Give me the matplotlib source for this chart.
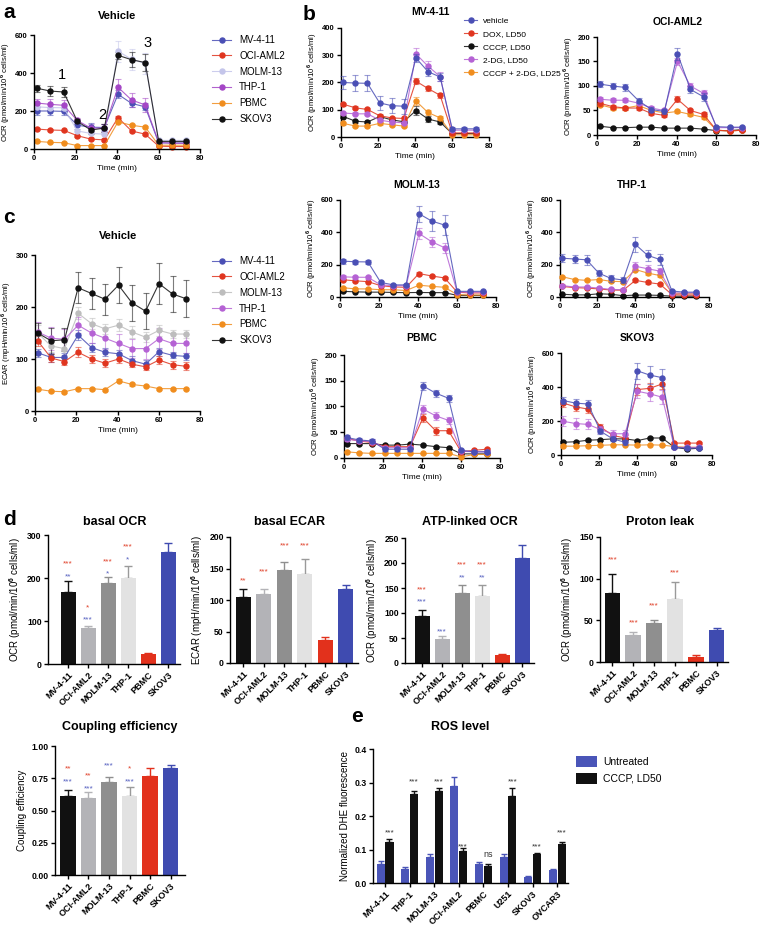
import matplotlib
matplotlib.use('Agg')
import matplotlib.pyplot as plt
import matplotlib.colors as mcolors
from matplotlib.lines import Line2D
import numpy as np

plt.rcParams['font.family'] = ['Liberation Sans', 'DejaVu Sans']
plt.rcParams['font.weight'] = 'bold'
plt.rcParams['mathtext.fontset'] = 'custom'
plt.rcParams['mathtext.rm'] = 'Liberation Sans'
plt.rcParams['mathtext.bf'] = 'Liberation Sans:bold'

# ---------------- data ----------------
time_min = [1.3, 7.8, 14.3, 20.9, 27.4, 33.9, 40.5, 47.0, 53.6, 60.1, 66.7, 73.2]

cell_lines = ["MV-4-11", "OCI-AML2", "MOLM-13", "THP-1", "PBMC", "SKOV3"]

# panel a: vehicle OCR
a_mv = [200, 200, 198, 125, 115, 113, 288, 240, 222, 32, 32, 32]
a_mv_err = [20, 20, 20, 20, 20, 20, 20, 18, 18, 5, 5, 5]
a_oci = [105, 100, 98, 70, 52, 48, 165, 95, 78, 15, 13, 13]
a_oci_err = [5, 4, 4, 5, 5, 5, 10, 6, 5, 2, 2, 2]
a_molm = [222, 218, 217, 95, 82, 78, 515, 472, 450, 45, 45, 45]
a_molm_err = [20, 20, 20, 20, 20, 20, 55, 55, 55, 5, 5, 5]
a_thp = [242, 235, 230, 150, 110, 110, 325, 258, 232, 35, 30, 30]
a_thp_err = [22, 30, 30, 15, 20, 20, 45, 35, 35, 5, 5, 5]
a_pbmc = [40, 35, 33, 18, 18, 18, 143, 125, 115, 20, 20, 20]
a_pbmc_err = [3, 3, 3, 2, 2, 2, 8, 5, 5, 2, 2, 2]
a_skov = [320, 305, 300, 145, 100, 110, 493, 470, 455, 40, 40, 40]
a_skov_err = [18, 25, 25, 15, 20, 20, 20, 40, 45, 5, 5, 5]

# panel b: treatments
treatments = ["vehicle", "DOX, LD50", "CCCP, LD50", "2-DG, LD50", "CCCP + 2-DG, LD25"]

b_mv_veh = [200, 198, 197, 125, 115, 113, 290, 240, 220, 30, 30, 30]
b_mv_veh_err = [25, 28, 30, 25, 28, 28, 15, 15, 15, 5, 5, 5]
b_mv_dox = [120, 107, 101, 78, 70, 68, 205, 178, 153, 15, 15, 15]
b_mv_dox_err = [6, 5, 5, 5, 5, 5, 12, 10, 10, 3, 3, 3]
b_mv_cccp = [75, 58, 55, 75, 63, 56, 97, 66, 55, 12, 13, 12]
b_mv_cccp_err = [5, 5, 5, 5, 5, 5, 15, 10, 8, 2, 2, 2]
b_mv_2dg = [88, 85, 85, 62, 55, 52, 305, 260, 222, 25, 25, 25]
b_mv_2dg_err = [5, 5, 5, 5, 5, 5, 20, 20, 15, 5, 5, 5]
b_mv_combo = [50, 40, 40, 50, 45, 40, 132, 90, 70, 8, 8, 8]
b_mv_combo_err = [5, 5, 5, 5, 5, 5, 15, 10, 8, 2, 2, 2]

b_oci_veh = [104, 100, 97, 70, 52, 48, 166, 93, 78, 17, 16, 16]
b_oci_veh_err = [6, 6, 7, 5, 5, 5, 12, 8, 8, 2, 2, 2]
b_oci_dox = [65, 58, 55, 55, 44, 40, 73, 50, 42, 10, 8, 10]
b_oci_dox_err = [5, 4, 4, 3, 3, 3, 6, 4, 4, 2, 2, 2]
b_oci_cccp = [18, 15, 15, 16, 16, 14, 14, 14, 12, 9, 9, 11]
b_oci_cccp_err = [1, 1, 1, 1, 1, 1, 1, 1, 1, 1, 1, 1]
b_oci_2dg = [73, 71, 71, 65, 55, 50, 150, 100, 85, 15, 15, 15]
b_oci_2dg_err = [4, 4, 4, 4, 4, 4, 8, 7, 6, 2, 2, 2]
b_oci_combo = [62, 55, 55, 60, 50, 45, 48, 42, 36, 10, 8, 10]
b_oci_combo_err = [3, 3, 3, 3, 3, 3, 3, 3, 3, 2, 2, 2]

b_molm_veh = [222, 218, 217, 90, 75, 75, 515, 470, 445, 35, 35, 35]
b_molm_veh_err = [15, 12, 12, 8, 8, 8, 50, 60, 60, 5, 5, 5]
b_molm_dox = [107, 100, 95, 70, 62, 60, 145, 130, 118, 30, 25, 25]
b_molm_dox_err = [5, 5, 5, 5, 5, 5, 8, 8, 8, 3, 3, 3]
b_molm_cccp = [35, 32, 30, 30, 28, 27, 28, 27, 27, 10, 10, 10]
b_molm_cccp_err = [3, 3, 3, 3, 3, 3, 3, 3, 3, 2, 2, 2]
b_molm_2dg = [125, 122, 122, 75, 70, 70, 393, 342, 305, 30, 30, 30]
b_molm_2dg_err = [8, 8, 8, 8, 8, 8, 35, 30, 30, 5, 5, 5]
b_molm_combo = [58, 50, 50, 45, 45, 40, 73, 66, 60, 15, 12, 12]
b_molm_combo_err = [4, 4, 4, 4, 4, 4, 5, 5, 5, 2, 2, 2]

b_thp_veh = [240, 235, 230, 147, 115, 105, 325, 258, 232, 37, 30, 30]
b_thp_veh_err = [25, 25, 30, 20, 20, 20, 45, 35, 35, 5, 5, 5]
b_thp_dox = [65, 58, 55, 50, 43, 42, 103, 90, 80, 15, 12, 12]
b_thp_dox_err = [5, 5, 5, 5, 5, 5, 8, 8, 8, 3, 3, 3]
b_thp_cccp = [17, 13, 13, 20, 17, 8, 12, 12, 10, 5, 5, 5]
b_thp_cccp_err = [2, 2, 2, 2, 2, 2, 2, 2, 2, 1, 1, 1]
b_thp_2dg = [70, 62, 62, 55, 47, 45, 190, 175, 160, 25, 25, 25]
b_thp_2dg_err = [8, 8, 8, 8, 8, 8, 25, 20, 20, 5, 5, 5]
b_thp_combo = [125, 108, 103, 108, 97, 95, 170, 148, 133, 25, 20, 20]
b_thp_combo_err = [6, 6, 6, 6, 6, 6, 10, 10, 10, 3, 3, 3]

b_pb_veh = [40, 35, 33, 17, 17, 17, 140, 126, 116, 15, 12, 12]
b_pb_veh_err = [5, 4, 4, 3, 3, 3, 8, 7, 7, 3, 3, 3]
b_pb_dox = [38, 33, 30, 22, 22, 22, 78, 53, 53, 12, 15, 17]
b_pb_dox_err = [3, 3, 3, 3, 3, 3, 8, 8, 5, 3, 3, 3]
b_pb_cccp = [28, 28, 28, 25, 25, 27, 25, 22, 20, 8, 8, 8]
b_pb_cccp_err = [2, 2, 2, 2, 2, 2, 2, 2, 2, 1, 1, 1]
b_pb_2dg = [37, 33, 32, 20, 20, 20, 95, 82, 73, 13, 12, 12]
b_pb_2dg_err = [4, 4, 4, 3, 3, 3, 8, 8, 7, 3, 3, 3]
b_pb_combo = [12, 10, 9, 9, 9, 9, 9, 9, 9, 2, 7, 7]
b_pb_combo_err = [1, 1, 1, 1, 1, 1, 1, 1, 1, 1, 1, 1]

b_sk_veh = [320, 305, 300, 140, 95, 75, 495, 470, 455, 45, 40, 40]
b_sk_veh_err = [20, 25, 25, 15, 15, 15, 45, 55, 50, 5, 5, 5]
b_sk_dox = [305, 283, 270, 165, 115, 100, 385, 392, 418, 70, 70, 70]
b_sk_dox_err = [20, 25, 25, 15, 15, 15, 30, 30, 30, 5, 5, 5]
b_sk_cccp = [75, 78, 87, 90, 95, 95, 85, 100, 100, 45, 35, 40]
b_sk_cccp_err = [5, 5, 5, 5, 5, 5, 5, 5, 5, 5, 5, 5]
b_sk_2dg = [198, 185, 180, 150, 125, 125, 375, 360, 340, 45, 45, 45]
b_sk_2dg_err = [30, 30, 30, 20, 20, 20, 40, 40, 40, 5, 5, 5]
b_sk_combo = [52, 52, 55, 57, 60, 60, 58, 60, 58, 50, 45, 45]
b_sk_combo_err = [4, 4, 4, 4, 4, 4, 4, 4, 4, 4, 4, 4]

# panel c: vehicle ECAR
c_mv = [112, 103, 103, 146, 122, 113, 110, 97, 90, 114, 107, 105]
c_mv_err = [8, 8, 8, 10, 8, 8, 8, 8, 8, 8, 6, 6]
c_oci = [135, 102, 95, 113, 100, 92, 100, 90, 85, 98, 89, 86]
c_oci_err = [10, 8, 6, 10, 8, 8, 8, 6, 6, 8, 8, 8]
c_molm = [150, 125, 120, 188, 168, 158, 165, 152, 142, 155, 148, 148]
c_molm_err = [15, 12, 12, 12, 10, 10, 12, 12, 10, 10, 8, 8]
c_thp = [152, 140, 138, 165, 150, 140, 130, 120, 120, 139, 130, 130]
c_thp_err = [20, 22, 20, 15, 20, 20, 18, 18, 20, 20, 18, 18]
c_pbmc = [42, 38, 37, 43, 43, 41, 58, 51, 48, 43, 43, 43]
c_pbmc_err = [2, 2, 2, 2, 2, 2, 3, 2, 2, 2, 2, 2]
c_skov = [150, 135, 137, 237, 226, 215, 242, 208, 192, 245, 225, 216]
c_skov_err = [20, 25, 22, 30, 30, 30, 35, 35, 35, 40, 35, 35]

# panel d: bar summaries
d_basal_ocr = [167, 83, 188, 200, 23, 260]
d_basal_ocr_err = [27, 6, 15, 28, 3, 22]
d_basal_ecar = [105, 110, 147, 141, 37, 117]
d_basal_ecar_err = [12, 8, 13, 24, 4, 7]
d_atp_ocr = [94, 49, 140, 135, 16, 210]
d_atp_ocr_err = [13, 6, 16, 22, 2, 26]
d_proton = [83, 32, 47, 76, 6, 38]
d_proton_err = [23, 4, 3, 20, 3, 3]
d_coupling = [0.61, 0.60, 0.72, 0.61, 0.77, 0.83]
d_coupling_err = [0.05, 0.04, 0.04, 0.07, 0.06, 0.02]

# significance labels (red vs PBMC, blue vs SKOV3): (bar index, text, y)
d_basal_ocr_red = [(0, "***", 232), (1, "*", 130), (2, "***", 237), (3, "***", 272)]
d_basal_ocr_blue = [(0, "**", 202), (1, "***", 102), (2, "*", 209), (3, "*", 242)]
d_basal_ecar_red = [(0, "**", 130), (1, "***", 144), (2, "***", 186), (3, "***", 186)]
d_atp_red = [(0, "***", 146), (2, "***", 196), (3, "***", 196)]
d_atp_blue = [(0, "***", 122), (1, "***", 62), (2, "**", 170), (3, "**", 170)]
d_proton_red = [(0, "***", 122), (1, "***", 47), (2, "***", 67), (3, "***", 107)]
d_coupling_red = [(0, "**", 0.82), (1, "**", 0.77), (3, "*", 0.82)]
d_coupling_blue = [(0, "***", 0.72), (1, "***", 0.67), (2, "***", 0.845), (3, "***", 0.72)]

# panel e: ROS
ros_lines = ["MV-4-11", "THP-1", "MOLM-13", "OCI-AML2", "PBMC", "U251", "SKOV3", "OVCAR3"]
ros_untreated = [0.058, 0.041, 0.078, 0.289, 0.056, 0.078, 0.019, 0.039]
ros_untreated_err = [0.007, 0.006, 0.008, 0.027, 0.006, 0.008, 0.002, 0.002]
ros_cccp = [0.123, 0.266, 0.276, 0.097, 0.052, 0.259, 0.087, 0.115]
ros_cccp_err = [0.008, 0.008, 0.007, 0.008, 0.004, 0.025, 0.004, 0.006]
ros_sig = ["***", "***", "***", "***", "ns", "***", "***", "***"]
ros_sig_y = [0.149, 0.303, 0.303, 0.109, 0.085, 0.303, 0.109, 0.149]

# ---------------- styling ----------------
BLUE = "#4a4fb5"
RED = "#e0351f"
BLACK = "#111111"
VIOLET = "#b562d4"
ORANGE = "#f08d1e"
LAVENDER = "#c4c5ea"
PURPLE = "#a446c6"
GREY = "#bdbdbd"
STAR_RED = "#e0412a"
STAR_BLUE = "#5560c0"
BAR_COLORS = ["#111111", "#b3b3b7", "#8f8f8f", "#e2e2e2", "#e2311c", "#3f4bb0"]

W, H = 761, 930
fig = plt.figure(figsize=(W / 100, H / 100), dpi=100)


def axpx(l, t, r, b):
    return fig.add_axes([l / W, 1 - b / H, (r - l) / W, (b - t) / H])


def ftext(x, y, s, **kw):
    kw.setdefault('ha', 'center')
    kw.setdefault('va', 'center')
    fig.text(x / W, 1 - y / H, s, **kw)


def style(ax, fs=5.5):
    for s in ['top', 'right']:
        ax.spines[s].set_visible(False)
    for s in ['left', 'bottom']:
        ax.spines[s].set_linewidth(1.0)
    ax.tick_params(width=1.0, length=3, labelsize=fs, pad=1.5)


def series(ax, y, e, color, z=2):
    ec = mcolors.to_rgba(color, 0.55)
    lc = mcolors.to_rgba(color, 0.85)
    ax.errorbar(time_min, y, yerr=e, color=lc, lw=0.8, ecolor=ec, elinewidth=0.8,
                capsize=2, capthick=0.8, marker='o', ms=3.6, mfc=color, mec=color,
                zorder=z, clip_on=False)


def handle(color):
    return Line2D([], [], color=mcolors.to_rgba(color, 0.85), lw=0.8, marker='o',
                  ms=3.6, mfc=color, mec=color)


OCR_LABEL = r"OCR (pmol/min/10$^{\mathbf{6}}$ cells/ml)"
ECAR_LABEL = r"ECAR (mpH/min/10$^{\mathbf{6}}$ cells/ml)"


def line_axes(rect, ymax, ystep, ylabel=OCR_LABEL):
    ax = axpx(*rect)
    style(ax)
    ax.set_xlim(0, 80)
    ax.set_ylim(0, ymax)
    ax.set_xticks([0, 20, 40, 60, 80])
    ax.set_yticks(np.arange(0, ymax + 1, ystep))
    ax.set_xlabel("Time (min)", fontsize=6, labelpad=2)
    ax.set_ylabel(ylabel, fontsize=5.6, labelpad=2)
    return ax


# ---------- panel a ----------
a_colors = [BLUE, RED, LAVENDER, PURPLE, ORANGE, BLACK]
ax = line_axes((34, 35, 200, 149), 600, 200)
for y, e, c in zip([a_mv, a_oci, a_molm, a_thp, a_pbmc, a_skov],
                   [a_mv_err, a_oci_err, a_molm_err, a_thp_err, a_pbmc_err, a_skov_err], a_colors):
    series(ax, y, e, c)
for x, y, s in [(13.5, 390, "1"), (32.8, 180, "2"), (54.5, 560, "3")]:
    ax.text(x, y, s, fontsize=10.5, fontweight='normal', ha='center', va='center')
fig.legend([handle(c) for c in a_colors], cell_lines, loc='upper left',
           bbox_to_anchor=(212 / W, 1 - 35 / H), frameon=False,
           prop={'weight': 'normal', 'size': 7}, handlelength=2.0, labelspacing=0.6,
           borderaxespad=0, borderpad=0, handletextpad=0.8)
ftext(117, 16, "Vehicle", fontsize=8)

# ---------- panel b ----------
b_panels = [
    ((341, 28, 489, 137), 400, 100, "MV-4-11", (430, 12),
     [b_mv_veh, b_mv_dox, b_mv_cccp, b_mv_2dg, b_mv_combo],
     [b_mv_veh_err, b_mv_dox_err, b_mv_cccp_err, b_mv_2dg_err, b_mv_combo_err]),
    ((597, 37, 756, 135), 200, 50, "OCI-AML2", (678, 22),
     [b_oci_veh, b_oci_dox, b_oci_cccp, b_oci_2dg, b_oci_combo],
     [b_oci_veh_err, b_oci_dox_err, b_oci_cccp_err, b_oci_2dg_err, b_oci_combo_err]),
    ((340, 200, 496, 297), 600, 200, "MOLM-13", (417, 185),
     [b_molm_veh, b_molm_dox, b_molm_cccp, b_molm_2dg, b_molm_combo],
     [b_molm_veh_err, b_molm_dox_err, b_molm_cccp_err, b_molm_2dg_err, b_molm_combo_err]),
    ((560, 200, 709, 297), 600, 200, "THP-1", (632, 185),
     [b_thp_veh, b_thp_dox, b_thp_cccp, b_thp_2dg, b_thp_combo],
     [b_thp_veh_err, b_thp_dox_err, b_thp_cccp_err, b_thp_2dg_err, b_thp_combo_err]),
    ((344, 355, 500, 458), 200, 50, "PBMC", (422, 338),
     [b_pb_veh, b_pb_dox, b_pb_cccp, b_pb_2dg, b_pb_combo],
     [b_pb_veh_err, b_pb_dox_err, b_pb_cccp_err, b_pb_2dg_err, b_pb_combo_err]),
    ((561, 353, 712, 455), 600, 200, "SKOV3", (637, 338),
     [b_sk_veh, b_sk_dox, b_sk_cccp, b_sk_2dg, b_sk_combo],
     [b_sk_veh_err, b_sk_dox_err, b_sk_cccp_err, b_sk_2dg_err, b_sk_combo_err]),
]
treat_colors = [BLUE, RED, BLACK, VIOLET, ORANGE]
treat_z = [6, 4, 2, 5, 3]
for rect, ymax, ystep, title, tpos, ys, es in b_panels:
    ax = line_axes(rect, ymax, ystep)
    for y, e, c, z in zip(ys, es, treat_colors, treat_z):
        series(ax, y, e, c, z)
    ftext(tpos[0], tpos[1], title, fontsize=7.5)
fig.legend([handle(c) for c in treat_colors], treatments, loc='upper left',
           bbox_to_anchor=(464 / W, 1 - 17 / H), frameon=False,
           prop={'weight': 'normal', 'size': 6.0}, handlelength=1.6, labelspacing=0.62,
           borderaxespad=0, borderpad=0, handletextpad=0.7)

# ---------- panel c ----------
c_colors = [BLUE, RED, GREY, VIOLET, ORANGE, BLACK]
ax = line_axes((35, 255, 200, 411), 300, 100, ECAR_LABEL)
for y, e, c in zip([c_mv, c_oci, c_molm, c_thp, c_pbmc, c_skov],
                   [c_mv_err, c_oci_err, c_molm_err, c_thp_err, c_pbmc_err, c_skov_err], c_colors):
    series(ax, y, e, c)
fig.legend([handle(c) for c in c_colors], cell_lines, loc='upper left',
           bbox_to_anchor=(212 / W, 1 - 256 / H), frameon=False,
           prop={'weight': 'normal', 'size': 7}, handlelength=2.0, labelspacing=0.6,
           borderaxespad=0, borderpad=0, handletextpad=0.8)
ftext(118, 236, "Vehicle", fontsize=8)


# ---------- panel d ----------
def bar_panel(rect, xlim, vals, errs, ymax, ystep, ylabel, title, tpos, red=(), blue=(), fmt=None):
    ax = axpx(*rect)
    style(ax, fs=6.2)
    x = np.arange(len(vals))
    ax.bar(x, vals, width=0.75, color=BAR_COLORS, zorder=2)
    for xi, v, e, c in zip(x, vals, errs, BAR_COLORS):
        ec = '#9a9a9a' if c == '#e2e2e2' else c
        ax.errorbar([xi], [v], yerr=[[0], [e]], fmt='none', ecolor=ec, elinewidth=1.0,
                    capsize=3, capthick=1.0, zorder=1)
    for i, s, y in red:
        ax.text(i, y, s, color=STAR_RED, fontsize=6, ha='center', va='center', fontweight='normal')
    for i, s, y in blue:
        ax.text(i, y, s, color=STAR_BLUE, fontsize=6, ha='center', va='center', fontweight='normal')
    ax.set_xlim(*xlim)
    ax.set_ylim(0, ymax)
    ticks = np.arange(0, ymax + ystep / 2, ystep)
    ax.set_yticks(ticks)
    if fmt:
        ax.set_yticklabels([fmt.format(v) for v in ticks])
    ax.set_xticks(x)
    ax.set_xticklabels(cell_lines, rotation=45, ha='right', rotation_mode='anchor', fontsize=6.5)
    ax.set_ylabel(ylabel, fontsize=7, labelpad=3)
    ftext(tpos[0], tpos[1], title, fontsize=9)
    return ax


bar_panel((48, 535, 180, 664), (-1.0, 5.6), d_basal_ocr, d_basal_ocr_err, 300, 100,
          OCR_LABEL, "basal OCR", (115, 522), d_basal_ocr_red, d_basal_ocr_blue)
bar_panel((230, 537, 358, 663), (-0.65, 5.6), d_basal_ecar, d_basal_ecar_err, 200, 50,
          ECAR_LABEL, "basal ECAR", (290, 522), d_basal_ecar_red)
bar_panel((405, 538, 534, 663), (-0.85, 5.6), d_atp_ocr, d_atp_ocr_err, 250, 50,
          OCR_LABEL, "ATP-linked OCR", (470, 522), d_atp_red, d_atp_blue)
bar_panel((600, 537, 728, 662), (-0.6, 5.55), d_proton, d_proton_err, 150, 50,
          OCR_LABEL, "Proton leak", (660, 522), d_proton_red)
bar_panel((55, 746, 185, 875), (-0.63, 5.7), d_coupling, d_coupling_err, 1.0, 0.25,
          "Coupling efficiency", "Coupling efficiency", (120, 727), d_coupling_red,
          d_coupling_blue, fmt="{:.2f}")

# ---------- panel e ----------
ax = axpx(373, 749, 568, 883)
style(ax, fs=6.2)
xr = np.arange(len(ros_lines))
ax.bar(xr - 0.18, ros_untreated, width=0.33, color="#4a55b8", label="Untreated", zorder=2)
ax.bar(xr + 0.18, ros_cccp, width=0.33, color=BLACK, label="CCCP, LD50", zorder=2)
ax.errorbar(xr - 0.18, ros_untreated, yerr=[np.zeros(len(xr)), ros_untreated_err], fmt='none',
            ecolor="#4a55b8", elinewidth=1.0, capsize=2, capthick=1.0, zorder=1)
ax.errorbar(xr + 0.18, ros_cccp, yerr=[np.zeros(len(xr)), ros_cccp_err], fmt='none',
            ecolor=BLACK, elinewidth=1.0, capsize=2, capthick=1.0, zorder=1)
for xi, s, y in zip(xr, ros_sig, ros_sig_y):
    ax.text(xi + 0.18, y, s, fontsize=6.5 if s == "ns" else 6, ha='center', va='center',
            fontweight='normal', color='#333333', zorder=3)
ax.set_xlim(-0.49, 7.44)
ax.set_ylim(0, 0.4)
ax.set_yticks([0, 0.1, 0.2, 0.3, 0.4])
ax.set_yticklabels(["0.0", "0.1", "0.2", "0.3", "0.4"])
ax.set_xticks(xr)
ax.set_xticklabels(ros_lines, rotation=45, ha='right', rotation_mode='anchor', fontsize=6.5)
ax.set_ylabel("Normalized DHE fluorescence", fontsize=7, labelpad=3)
ax.legend(loc='upper left', bbox_to_anchor=(1.02, 0.98), frameon=False,
          prop={'weight': 'normal', 'size': 7.5}, handlelength=2.0, handleheight=1.2,
          labelspacing=0.6, borderaxespad=0, handletextpad=0.6)
ftext(460, 727, "ROS level", fontsize=9)

# panel letters
for x, y, s in [(9, 12, "a"), (309, 14, "b"), (9, 217, "c"), (9, 519, "d"), (357, 716, "e")]:
    ftext(x, y, s, fontsize=15)

fig.savefig("out.png", dpi=100)
